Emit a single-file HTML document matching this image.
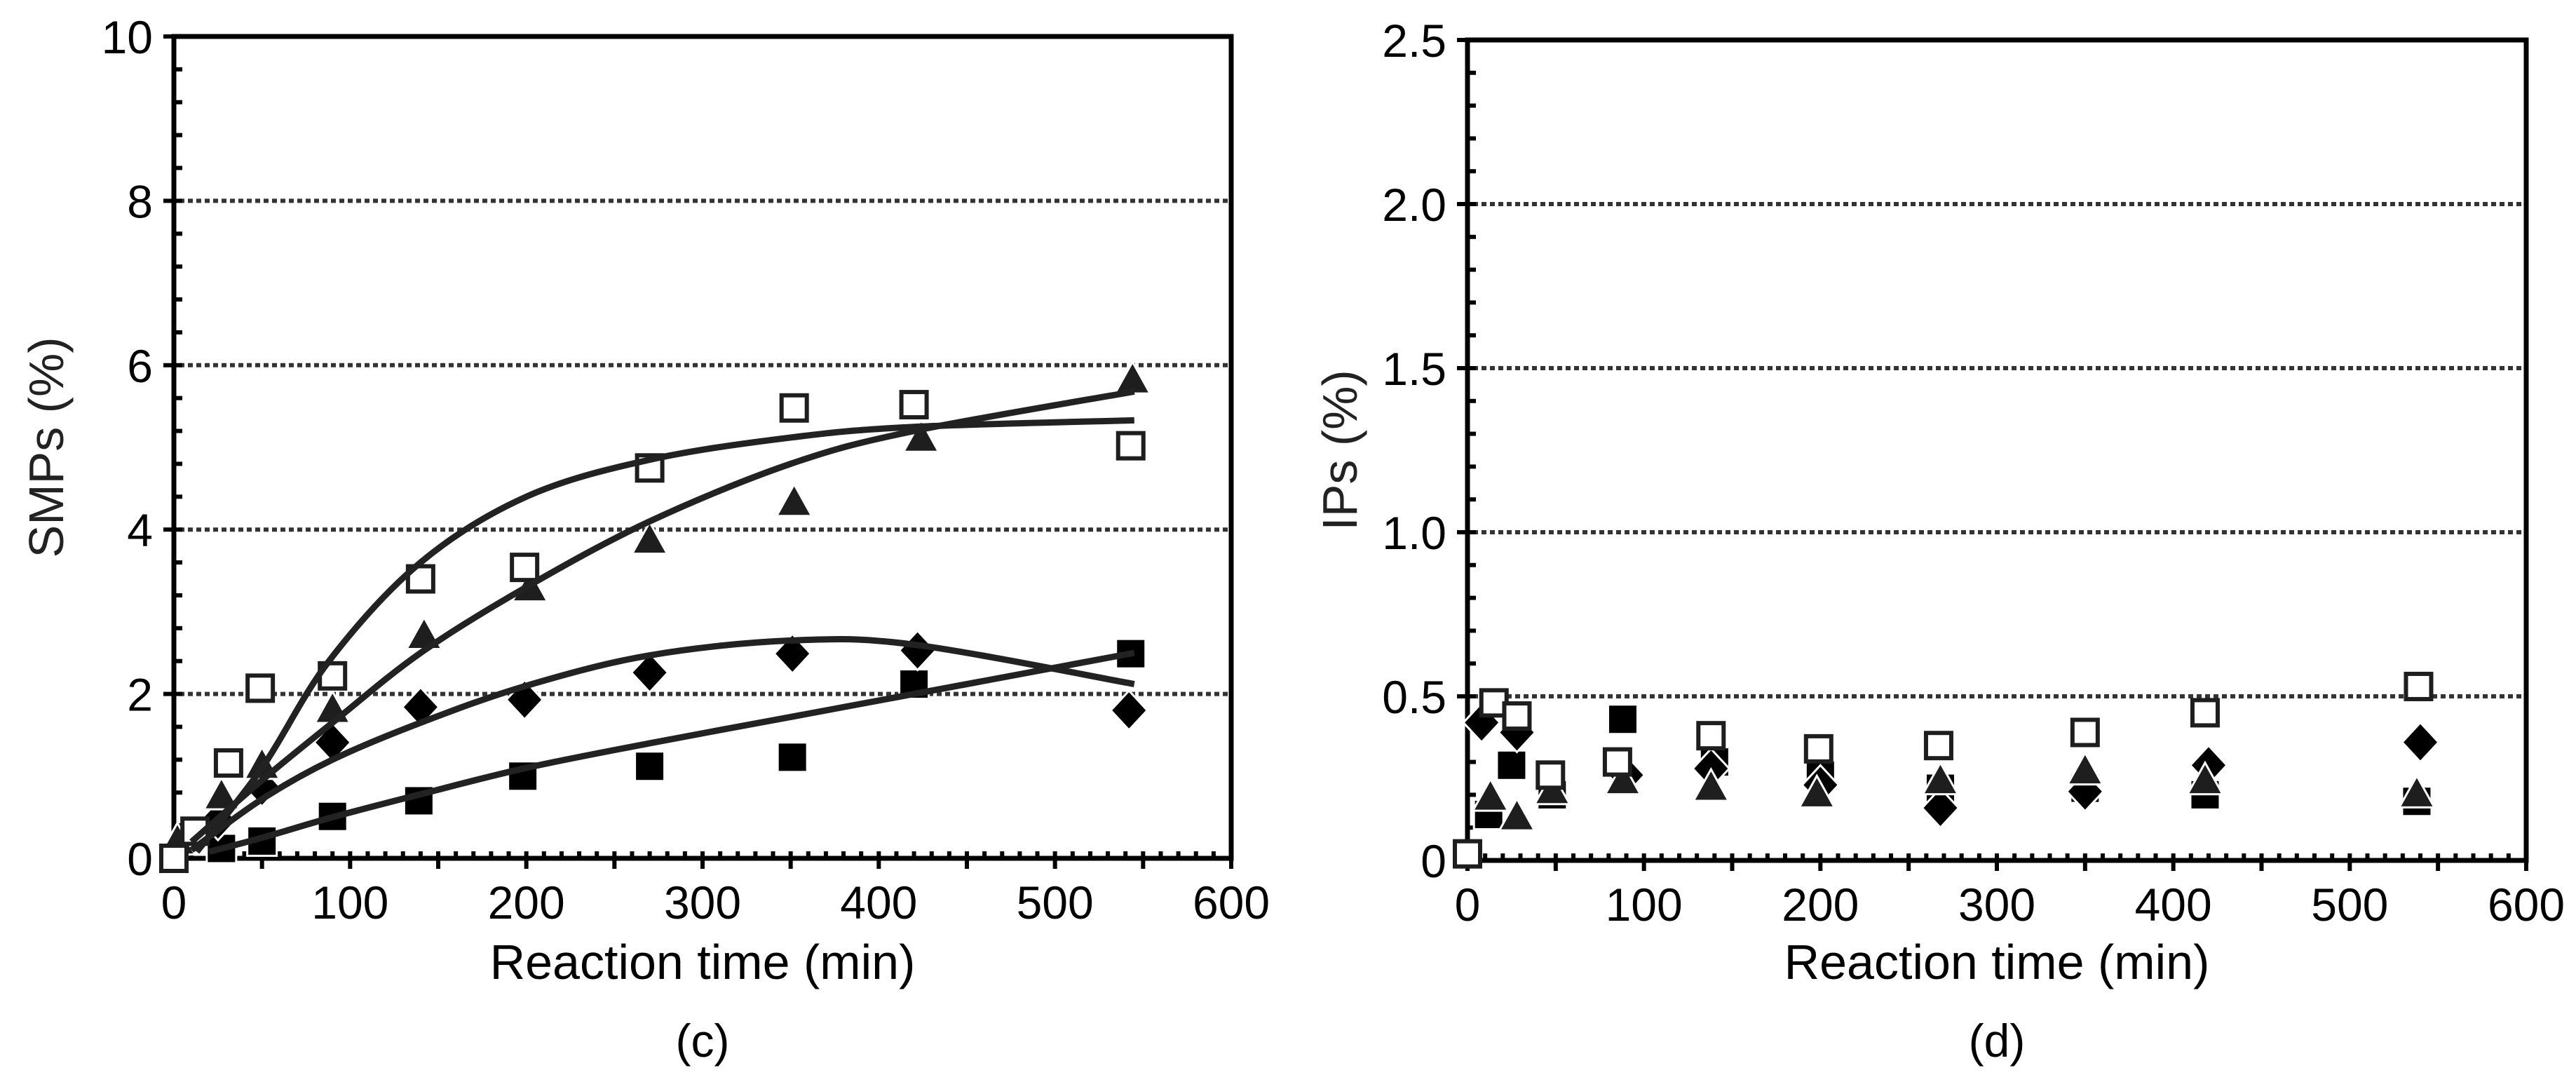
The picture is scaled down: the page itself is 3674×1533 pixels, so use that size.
<!DOCTYPE html>
<html><head><meta charset="utf-8"><style>
html,body{margin:0;padding:0;background:#fff;}
svg{display:block;font-family:"Liberation Sans",Arial,sans-serif;}
</style></head><body>
<svg id="chart" width="3674" height="1533" viewBox="0 0 3674 1533" xmlns="http://www.w3.org/2000/svg"></svg>
<script>
// ---- Panel (c) data: SMPs ----
const cTimeOpenSq = [0, 12, 31, 49, 90, 140, 199, 270, 352, 420, 543];
const cValOpenSq  = [0, 0.33, 1.16, 2.07, 2.22, 3.40, 3.54, 4.75, 5.48, 5.52, 5.02];
const cTimeTri = [2, 27, 50, 90, 142, 202, 270, 352, 424, 544];
const cValTri  = [0.2, 0.75, 1.12, 1.8, 2.7, 3.28, 3.86, 4.32, 5.1, 5.81];
const cTimeDia = [25, 50, 90, 140, 199, 270, 351, 422, 542];
const cValDia  = [0.46, 0.87, 1.41, 1.84, 1.93, 2.26, 2.49, 2.53, 1.8];
const cTimeFSq = [27, 50, 90, 139, 198, 270, 351, 420, 543];
const cValFSq  = [0.12, 0.21, 0.51, 0.70, 1.0, 1.12, 1.23, 2.12, 2.49];
// fitted trend curves
const fitOpenSqX = [13, 50, 88, 140, 200, 270, 350, 420, 545];
const fitOpenSqY = [0.08, 1.1, 2.4, 3.6, 4.4, 4.85, 5.12, 5.25, 5.33];
const fitTriX = [10, 50, 90, 140, 200, 270, 350, 420, 545];
const fitTriY = [0.2, 0.95, 1.65, 2.5, 3.3, 4.1, 4.8, 5.2, 5.68];
const fitDiaX = [10, 50, 90, 140, 200, 270, 350, 420, 545];
const fitDiaY = [0.1, 0.72, 1.2, 1.65, 2.1, 2.47, 2.65, 2.6, 2.12];
const fitFSqX = [20, 50, 90, 140, 200, 270, 350, 420, 545];
const fitFSqY = [0.08, 0.25, 0.5, 0.78, 1.1, 1.4, 1.72, 2.0, 2.5];
// ---- Panel (d) data: IPs ----
const dTimeOpenSq = [0, 15, 28, 47, 85, 138, 199, 267, 350, 418, 539];
const dValOpenSq  = [0.02, 0.48, 0.44, 0.26, 0.30, 0.38, 0.34, 0.35, 0.39, 0.45, 0.53];
const dTimeDia = [8, 28, 90, 138, 200, 268, 350, 420, 540];
const dValDia  = [0.42, 0.39, 0.26, 0.28, 0.23, 0.16, 0.21, 0.29, 0.36];
const dTimeTri = [13, 28, 48, 88, 138, 198, 268, 350, 418, 538];
const dValTri  = [0.19, 0.13, 0.21, 0.24, 0.22, 0.20, 0.24, 0.27, 0.24, 0.20];
const dTimeFSq = [12, 25, 48, 88, 140, 200, 268, 350, 418, 538];
const dValFSq  = [0.14, 0.29, 0.20, 0.43, 0.30, 0.26, 0.22, 0.22, 0.20, 0.18];
// ticks
const xTickLabels = [0, 100, 200, 300, 400, 500, 600];
const cYTickLabels = [0, 2, 4, 6, 8, 10];
const dYTickLabels = ["0", "0.5", "1.0", "1.5", "2.0", "2.5"];
const dYTickValues = [0, 0.5, 1.0, 1.5, 2.0, 2.5];

const NS = "http://www.w3.org/2000/svg";
const svg = document.getElementById("chart");
function mk(tag, attrs, parent) {
  const e = document.createElementNS(NS, tag);
  for (const k in attrs) e.setAttribute(k, attrs[k]);
  (parent || svg).appendChild(e);
  return e;
}
const INK = "#1e1e1e";

function panel(cfg) {
  const g = mk("g", {});
  
  
  const X = v => cfg.x0 + (cfg.x1 - cfg.x0) * v / 600;
  const Y = v => cfg.y0 - (cfg.y0 - cfg.y1) * v / cfg.ymax;
  cfg.grid.forEach(v => {
    const l = mk("line", {x1: X(0) + 8, x2: cfg.x1, y1: Y(v), y2: Y(v), stroke: "#333", "stroke-width": 6, "stroke-dasharray": "7 5"}, g);
    
    
  });
  const fr = mk("rect", {x: cfg.x0, y: cfg.y1, width: cfg.x1 - cfg.x0, height: cfg.y0 - cfg.y1, fill: "none", stroke: "#000", "stroke-width": 7}, g);
  
  
  for (let t = 0; t <= 600; t += 10) {
    const major = t % 50 === 0;
    const tk = mk("line", {x1: X(t), x2: X(t), y1: major ? cfg.y0 + 15 : cfg.y0 - 10, y2: cfg.y0 - (major ? 10 : 0), stroke: "#000", "stroke-width": 6}, g);
    
    
  }
  xTickLabels.forEach(v => {
    const t = mk("text", {x: X(v), y: cfg.y0 + 86, "font-size": 66, "text-anchor": "middle", fill: "#000"}, g);
    t.textContent = v;
    
    
  });
  for (let v = 0; v <= cfg.ymax + 1e-9; v += cfg.minor) {
    const tk = mk("line", {x1: cfg.x0, x2: cfg.x0 + 12, y1: Y(v), y2: Y(v), stroke: "#000", "stroke-width": 6}, g);
    
    
  }
  cfg.yvals.forEach((v, i) => {
    const tk = mk("line", {x1: cfg.x0 - 15, x2: cfg.x0, y1: Y(v), y2: Y(v), stroke: "#000", "stroke-width": 6}, g);
    
    
    const t = mk("text", {x: cfg.x0 - 30, y: Y(v) + 24, "font-size": 66, "text-anchor": "end", fill: "#000"}, g);
    t.textContent = cfg.ylabels[i];
    
    
  });
  const xt = mk("text", {x: (cfg.x0 + cfg.x1) / 2, y: 1396, "font-size": 70, "text-anchor": "middle", fill: "#000"}, g);
  xt.textContent = "Reaction time (min)";
  
  
  const yt = mk("text", {x: 0, y: 0, "font-size": 70, "text-anchor": "middle", fill: "#222", transform: `translate(${cfg.ytx},${(cfg.y0 + cfg.y1) / 2}) rotate(-90)`}, g);
  yt.textContent = cfg.ytitle;
  
  
  const pl = mk("text", {x: (cfg.x0 + cfg.x1) / 2, y: 1507, "font-size": 66, "text-anchor": "middle", fill: "#000"}, g);
  pl.textContent = cfg.label;
  
  
  return {g, X, Y};
}

function curve(p, xs, ys) {
  const pts = xs.map((x, i) => [p.X(x), p.Y(ys[i])]);
  let d = `M${pts[0][0]},${pts[0][1]}`;
  for (let i = 0; i < pts.length - 1; i++) {
    const p0 = pts[Math.max(0, i - 1)], p1 = pts[i], p2 = pts[i + 1], p3 = pts[Math.min(pts.length - 1, i + 2)];
    const c1 = [p1[0] + (p2[0] - p0[0]) / 6, p1[1] + (p2[1] - p0[1]) / 6];
    const c2 = [p2[0] - (p3[0] - p1[0]) / 6, p2[1] - (p3[1] - p1[1]) / 6];
    d += ` C${c1[0]},${c1[1]} ${c2[0]},${c2[1]} ${p2[0]},${p2[1]}`;
  }
  const path = mk("path", {d, fill: "none", stroke: "#222", "stroke-width": 9, "stroke-linecap": "butt"}, p.g);
  
  
}

function markers(p, xs, ys, type) {
  xs.forEach((x, i) => {
    const cx = p.X(x), cy = p.Y(ys[i]);
    let e;
    if (type === "fsq") {
      e = mk("rect", {x: cx - 21, y: cy - 21, width: 42, height: 42, fill: "#000", stroke: "#fff", "stroke-width": 3}, p.g);
      
    } else if (type === "osq") {
      e = mk("rect", {x: cx - 18, y: cy - 18, width: 36, height: 36, fill: "#fff", stroke: INK, "stroke-width": 6}, p.g);
      
    } else if (type === "tri") {
      e = mk("polygon", {points: `${cx},${cy - 27} ${cx + 25},${cy + 18} ${cx - 25},${cy + 18}`, fill: INK, stroke: "#fff", "stroke-width": 3}, p.g);
      
    } else {
      e = mk("polygon", {points: `${cx},${cy - 28} ${cx + 26},${cy} ${cx},${cy + 28} ${cx - 26},${cy}`, fill: "#000", stroke: "#fff", "stroke-width": 3}, p.g);
      
    }
    
  });
}

const pc = panel({name: "panel-c-smps", x0: 248, x1: 1756, y0: 1224, y1: 52, ymax: 10, minor: 0.4,
  grid: [2, 4, 6, 8], yvals: cYTickLabels, ylabels: cYTickLabels, ytitle: "SMPs (%)", ytx: 90, label: "(c)"});
markers(pc, cTimeFSq, cValFSq, "fsq");
markers(pc, cTimeDia, cValDia, "dia");
markers(pc, cTimeTri, cValTri, "tri");
markers(pc, cTimeOpenSq, cValOpenSq, "osq");
curve(pc, fitOpenSqX, fitOpenSqY);
curve(pc, fitTriX, fitTriY);
curve(pc, fitDiaX, fitDiaY);
curve(pc, fitFSqX, fitFSqY);

const pd = panel({name: "panel-d-ips", x0: 2093, x1: 3603, y0: 1227, y1: 57, ymax: 2.5, minor: 0.1,
  grid: [0.5, 1.0, 1.5, 2.0], yvals: dYTickValues, ylabels: dYTickLabels, ytitle: "IPs (%)", ytx: 1935, label: "(d)"});
markers(pd, dTimeFSq, dValFSq, "fsq");
markers(pd, dTimeDia, dValDia, "dia");
markers(pd, dTimeTri, dValTri, "tri");
markers(pd, dTimeOpenSq, dValOpenSq, "osq");
</script>
</body></html>
